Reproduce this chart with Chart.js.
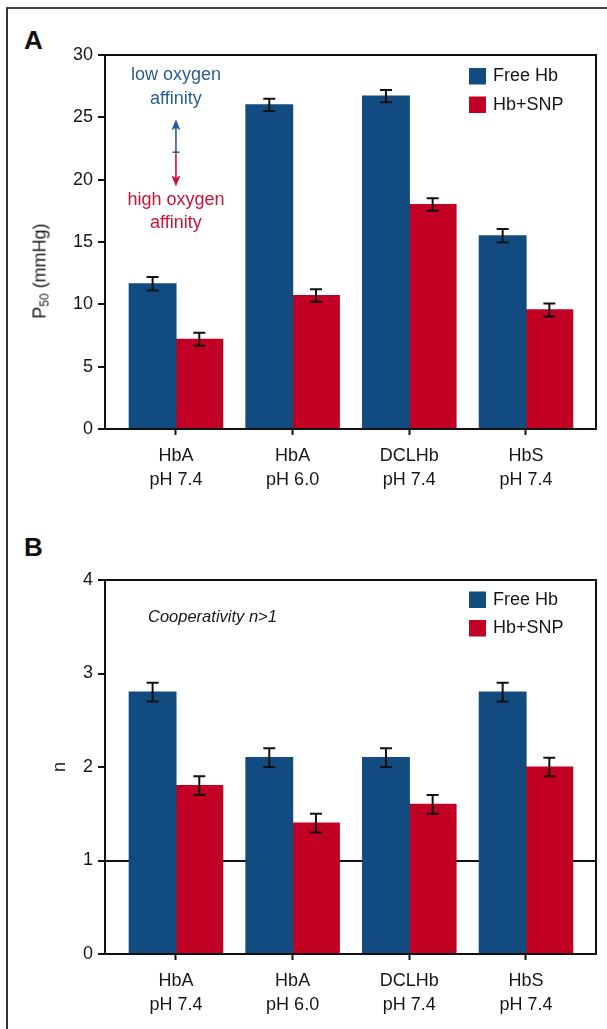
<!DOCTYPE html>
<html><head><meta charset="utf-8">
<script src="https://cdn.jsdelivr.net/npm/chart.js@4.4.1/dist/chart.umd.min.js"></script>
<style>
html,body{margin:0;padding:0;background:#fff;}
#wrap{position:relative;width:607px;height:1029px;overflow:hidden;font-family:"Liberation Sans",Arial,sans-serif;color:#1a1a1a;}
#frame{position:absolute;left:6px;top:7px;width:700px;height:1100px;border-left:2px solid #333;border-top:2px solid #444;}
canvas{position:absolute;left:0;}
.pl{position:absolute;font-weight:bold;font-size:26px;line-height:26px;left:24px;color:#111;}
.yt{position:absolute;transform:translate(-50%,-50%) rotate(-90deg);white-space:nowrap;font-size:18px;line-height:18px;color:#161616;}
.yt sub{font-size:12px;vertical-align:-3px;}
</style></head>
<body><div id="wrap">
<div id="frame"></div>
<div class="pl" style="top:27px">A</div>
<div class="pl" style="top:534px">B</div>
<canvas id="cA" width="607" height="505" style="top:0"></canvas>
<canvas id="cB" width="607" height="504" style="top:525px"></canvas>
<div class="yt" style="left:42px;top:271px">P<sub>50</sub> (mmHg)</div>
<div class="yt" style="left:59px;top:767px">n</div>
</div>
<script>
// ---- data ----
const categories = [["HbA","pH 7.4"],["HbA","pH 6.0"],["DCLHb","pH 7.4"],["HbS","pH 7.4"]];
const seriesNames = ["Free Hb","Hb+SNP"];
const p50Free    = [11.65, 26.0, 26.7, 15.5];
const p50FreeErr = [0.55, 0.5, 0.5, 0.55];
const p50Snp     = [7.2, 10.7, 18.0, 9.55];
const p50SnpErr  = [0.52, 0.5, 0.5, 0.52];
const nFree      = [2.8, 2.1, 2.1, 2.8];
const nFreeErr   = [0.1, 0.1, 0.1, 0.1];
const nSnp       = [1.8, 1.4, 1.6, 2.0];
const nSnpErr    = [0.1, 0.1, 0.1, 0.1];
const p50Ticks   = [0, 5, 10, 15, 20, 25, 30];
const nTicks     = [0, 1, 2, 3, 4];

// ---- style ----
const F = '"Liberation Sans", Arial, sans-serif';
const BLUE = '#114b7f', RED = '#c10024', INK = '#111', TXT = '#161616';
const ANN_BLUE = '#2a5d92', ANN_RED = '#cc1236';

const errorBars = {
  id: 'errorBars',
  afterDatasetsDraw(chart) {
    const ctx = chart.ctx, y = chart.scales.y;
    chart.data.datasets.forEach((ds, d) => {
      const meta = chart.getDatasetMeta(d);
      meta.data.forEach((bar, i) => {
        const v = ds.data[i].y, e = ds.err[i];
        const x = bar.x, t = y.getPixelForValue(v + e), b = y.getPixelForValue(v - e);
        ctx.save();
        ctx.strokeStyle = INK; ctx.lineWidth = 2;
        ctx.beginPath();
        ctx.moveTo(x, t); ctx.lineTo(x, b);
        ctx.moveTo(x - 6, t); ctx.lineTo(x + 6, t);
        ctx.moveTo(x - 6, b); ctx.lineTo(x + 6, b);
        ctx.stroke();
        ctx.restore();
      });
    });
  }
};

const boxAndLegend = {
  id: 'boxAndLegend',
  afterDraw(chart) {
    const ctx = chart.ctx, a = chart.chartArea;
    ctx.save();
    ctx.strokeStyle = INK; ctx.lineWidth = 2;
    ctx.strokeRect(a.left, a.top, a.right - a.left, a.bottom - a.top);
    const top0 = chart.options.legendTop;
    chart.data.datasets.forEach((ds, d) => {
      const yy = a.top + top0 + d * 28.5;
      ctx.fillStyle = ds.backgroundColor;
      ctx.fillRect(a.left + 364, yy, 17, 16.5);
      ctx.fillStyle = TXT;
      ctx.font = '18px ' + F;
      ctx.textBaseline = 'middle'; ctx.textAlign = 'left';
      ctx.fillText(ds.label, a.left + 388, yy + 8.5);
    });
    ctx.restore();
  }
};

const annotateA = {
  id: 'annotateA',
  afterDraw(chart) {
    const ctx = chart.ctx, x = chart.scales.x.getPixelForValue(0), y = chart.scales.y;
    ctx.save();
    ctx.font = '18px ' + F; ctx.textAlign = 'center'; ctx.textBaseline = 'middle';
    ctx.fillStyle = ANN_BLUE;
    ctx.fillText('low oxygen', x, y.getPixelForValue(28.4));
    ctx.fillText('affinity', x, y.getPixelForValue(26.5));
    ctx.fillStyle = ANN_RED;
    ctx.fillText('high oxygen', x, y.getPixelForValue(18.35));
    ctx.fillText('affinity', x, y.getPixelForValue(16.5));
    const tTop = y.getPixelForValue(24.85), mid = y.getPixelForValue(22.2), tBot = y.getPixelForValue(19.45);
    ctx.lineWidth = 1.6;
    ctx.strokeStyle = ANN_BLUE; ctx.fillStyle = ANN_BLUE;
    ctx.beginPath(); ctx.moveTo(x, tTop + 8); ctx.lineTo(x, mid); ctx.stroke();
    ctx.beginPath(); ctx.moveTo(x - 3.5, mid); ctx.lineTo(x + 3.5, mid); ctx.stroke();
    ctx.beginPath(); ctx.moveTo(x, tTop); ctx.lineTo(x - 4.5, tTop + 11); ctx.lineTo(x, tTop + 8.5); ctx.lineTo(x + 4.5, tTop + 11); ctx.closePath(); ctx.fill();
    ctx.strokeStyle = ANN_RED; ctx.fillStyle = ANN_RED;
    ctx.beginPath(); ctx.moveTo(x, mid + 1); ctx.lineTo(x, tBot - 8); ctx.stroke();
    ctx.beginPath(); ctx.moveTo(x, tBot); ctx.lineTo(x - 4.5, tBot - 11); ctx.lineTo(x, tBot - 8.5); ctx.lineTo(x + 4.5, tBot - 11); ctx.closePath(); ctx.fill();
    ctx.restore();
  }
};

const annotateB = {
  id: 'annotateB',
  afterDraw(chart) {
    const ctx = chart.ctx, y = chart.scales.y;
    ctx.save();
    ctx.font = 'italic 16.5px ' + F; ctx.textAlign = 'left'; ctx.textBaseline = 'middle';
    ctx.fillStyle = TXT;
    ctx.fillText('Cooperativity n>1', chart.chartArea.left + 43, y.getPixelForValue(3.6));
    ctx.restore();
  }
};

function makeChart(id, free, freeErr, snp, snpErr, yTicks, yMax, legendTop, refLine, extra) {
  return new Chart(document.getElementById(id), {
    type: 'bar',
    data: {
      datasets: [
        { label: seriesNames[0], data: free.map((v, i) => ({ x: i, y: v })), err: freeErr,
          backgroundColor: BLUE, categoryPercentage: 0.8, barPercentage: 1.0, inflateAmount: 0.6 },
        { label: seriesNames[1], data: snp.map((v, i) => ({ x: i, y: v })), err: snpErr,
          backgroundColor: RED, categoryPercentage: 0.8, barPercentage: 1.0, inflateAmount: 0.6 }
      ]
    },
    options: {
      responsive: false, animation: false, devicePixelRatio: 1,
      legendTop: legendTop,
      layout: { padding: { top: 55, right: 11, left: 0, bottom: 0 } },
      plugins: { legend: { display: false }, tooltip: { enabled: false } },
      scales: {
        x: {
          type: 'linear', min: -0.608, max: 3.6, offset: false,
          afterBuildTicks: s => { s.ticks = categories.map((c, i) => ({ value: i })); },
          afterFit: s => { s.height = id === 'cA' ? 76 : 75; },
          grid: { drawOnChartArea: false, offset: false, tickLength: 6, tickColor: INK, tickWidth: 2 },
          border: { color: INK, width: 2 },
          ticks: { callback: v => categories[v], font: { size: 18, family: F, lineHeight: 1.35 },
                   color: TXT, padding: 9, maxRotation: 0, autoSkip: false }
        },
        y: {
          min: 0, max: yMax,
          afterBuildTicks: s => { s.ticks = yTicks.map(v => ({ value: v })); },
          afterFit: s => { s.width = 105; },
          grid: {
            drawOnChartArea: refLine !== null,
            color: c => (refLine !== null && c.tick && c.tick.value === refLine) ? INK : 'rgba(0,0,0,0)',
            lineWidth: 2, tickLength: 7, tickColor: INK, tickWidth: 2
          },
          border: { color: INK, width: 2 },
          ticks: { font: { size: 18, family: F }, color: TXT, padding: 5 }
        }
      }
    },
    plugins: [errorBars, boxAndLegend, extra]
  });
}

makeChart('cA', p50Free, p50FreeErr, p50Snp, p50SnpErr, p50Ticks, 30, 13, null, annotateA);
makeChart('cB', nFree, nFreeErr, nSnp, nSnpErr, nTicks, 4, 11.5, 1, annotateB);
</script>
</body></html>
